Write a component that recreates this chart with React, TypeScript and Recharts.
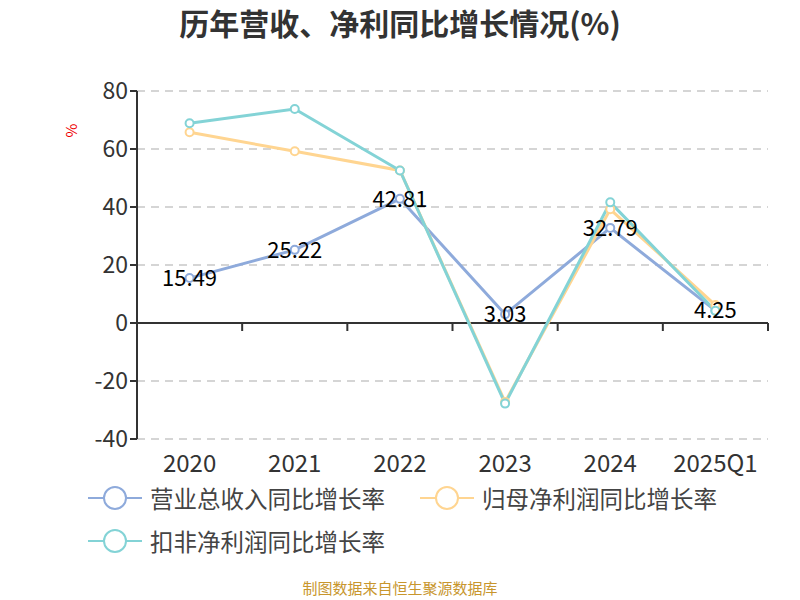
import React from 'react';
import {
  LineChart,
  Line,
  XAxis,
  YAxis,
  CartesianGrid,
  ReferenceLine,
  LabelList,
} from 'recharts';

const YEARS = ['2020', '2021', '2022', '2023', '2024', '2025Q1'];
const REVENUE = [15.49, 25.22, 42.81, 3.03, 32.79, 4.25];
const PARENT_PROFIT = [65.8, 59.2, 52.6, -27.2, 39.2, 6.2];
const DEDUCTED_PROFIT = [68.9, 73.8, 52.6, -27.8, 41.6, 4.2];
const Y_TICKS = [-40, -20, 0, 20, 40, 60, 80];

const SERIES = [
  { key: 'revenue', name: '营业总收入同比增长率', color: '#8eaadb' },
  { key: 'parent', name: '归母净利润同比增长率', color: '#ffd591' },
  { key: 'deducted', name: '扣非净利润同比增长率', color: '#83d3d6' },
];

const data = YEARS.map((year, i) => ({
  year,
  revenue: REVENUE[i],
  parent: PARENT_PROFIT[i],
  deducted: DEDUCTED_PROFIT[i],
}));

const FONT = '"Microsoft YaHei", "Noto Sans CJK SC", "Noto Sans", sans-serif';

// zero axis line with category boundary ticks
const ZeroAxis = (props: any) => {
  const { x1, y1, x2, y2 } = props;
  const n = YEARS.length;
  const step = (x2 - x1) / n;
  return (
    <g>
      <line x1={x1} y1={y1} x2={x2} y2={y2} stroke="#333" strokeWidth={2} />
      {Array.from({ length: n }, (_, i) => (
        <line
          key={i}
          x1={x1 + step * (i + 1)}
          x2={x1 + step * (i + 1)}
          y1={y1}
          y2={y1 + 8}
          stroke="#333"
          strokeWidth={2}
        />
      ))}
    </g>
  );
};

const LegendIcon = ({ color }: { color: string }) => (
  <svg width={54} height={28} style={{ display: 'block' }}>
    <line x1={0} y1={14} x2={54} y2={14} stroke={color} strokeWidth={2} />
    <circle cx={27} cy={14} r={11} fill="#fff" stroke={color} strokeWidth={2} />
  </svg>
);

export default function App() {
  return (
    <div style={{ position: 'absolute', left: 0, top: 0, width: 800, height: 600, background: '#fff', fontFamily: FONT }}>
      <div style={{ position: 'absolute', top: 4, width: 800, textAlign: 'center', fontSize: 30, lineHeight: '36px', fontWeight: 'bold', color: '#333' }}>
        历年营收、净利同比增长情况(%)
      </div>
      <div style={{ position: 'absolute', left: 64, top: 120, fontSize: 15, color: '#e00', transform: 'rotate(-90deg)' }}>%</div>
      <LineChart width={800} height={600} data={data} margin={{ top: 91, right: 32, left: 0, bottom: 131 }}>
        <CartesianGrid vertical={false} stroke="#c8c8c8" strokeDasharray="8 6" strokeWidth={1.5} />
        <XAxis
          dataKey="year"
          scale="band"
          height={30}
          axisLine={false}
          tickLine={false}
          tick={{ fontSize: 24, fill: '#333', fontFamily: FONT }}
          tickMargin={10}
        />
        <YAxis
          width={137}
          domain={[-40, 80]}
          ticks={Y_TICKS}
          interval={0}
          axisLine={{ stroke: '#333', strokeWidth: 2 }}
          tickLine={{ stroke: '#333', strokeWidth: 2 }}
          tickSize={7}
          tick={{ fontSize: 23, fill: '#333', fontFamily: FONT }}
        />
        <ReferenceLine y={0} shape={<ZeroAxis />} />
        {SERIES.map((s) => (
          <Line
            key={s.key}
            dataKey={s.key}
            name={s.name}
            stroke={s.color}
            strokeWidth={3}
            dot={{ r: 4, fill: '#fff', stroke: s.color, strokeWidth: 2 }}
            activeDot={false}
            isAnimationActive={false}
          >
            {s.key === 'revenue' && (
              <LabelList
                dataKey="revenue"
                position="center"
                fill="#000"
                fontSize={22}
                fontFamily={FONT}
              />
            )}
          </Line>
        ))}
      </LineChart>
      <div style={{ position: 'absolute', left: 88, top: 476, width: 700 }}>
        {[[SERIES[0], SERIES[1]], [SERIES[2]]].map((row, r) => (
          <div key={r} style={{ display: 'flex', height: 43, alignItems: 'center' }}>
            {row.map((s) => (
              <div key={s.key} style={{ display: 'flex', alignItems: 'center', width: 332 }}>
                <LegendIcon color={s.color} />
                <span style={{ marginLeft: 8, fontSize: 23.5, color: '#444' }}>{s.name}</span>
              </div>
            ))}
          </div>
        ))}
      </div>
      <div style={{ position: 'absolute', top: 577, width: 800, textAlign: 'center', fontSize: 15, color: '#c8962d' }}>
        制图数据来自恒生聚源数据库
      </div>
    </div>
  );
}
